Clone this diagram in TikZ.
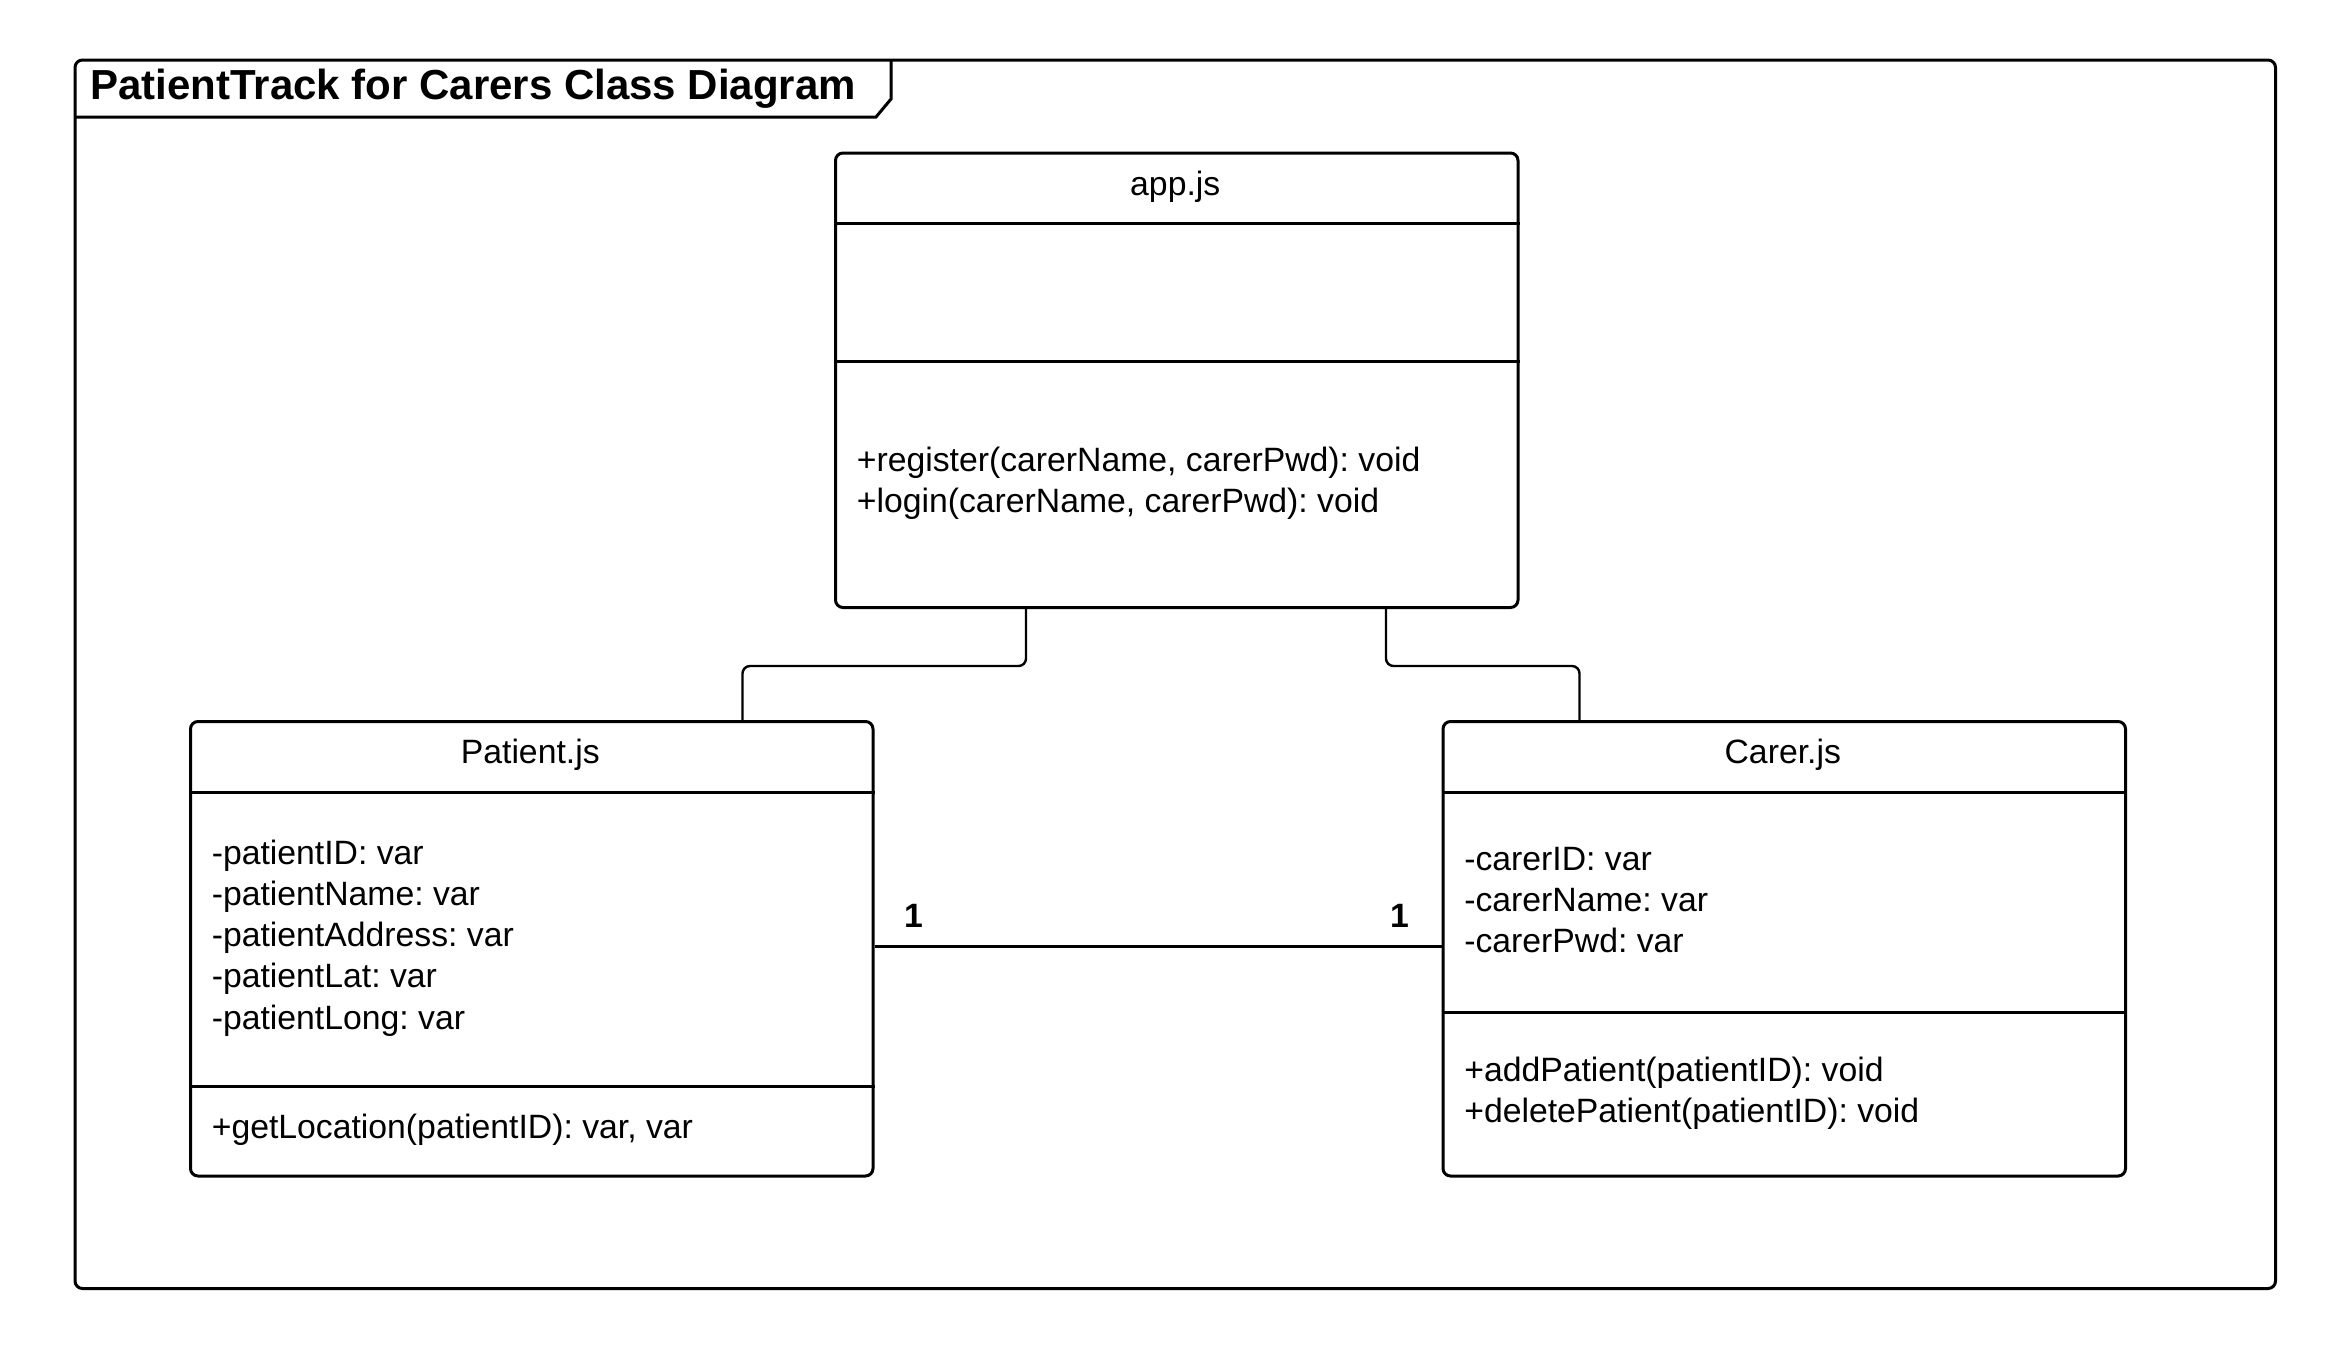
\documentclass[tikz,border=0pt]{standalone}
\usepackage{fontspec}
\setmainfont{Liberation Sans}
\frenchspacing
\usetikzlibrary{positioning}
\tikzset{classbox/.style = {draw, line width=2pt, rounded corners=5pt, inner sep=0pt,
                            anchor=north west, minimum width=455pt, minimum height=303pt},
         member/.style = {anchor=base west, inner sep=0pt, font=\fontsize{22.5}{27}\selectfont},
         cname/.style = {anchor=base, inner sep=0pt, font=\fontsize{22.5}{27}\selectfont},
         mult/.style = {anchor=base, inner sep=0pt, font=\bfseries\fontsize{22.5}{27}\selectfont},
         sep/.style = {line width=2pt},
         link/.style = {line width=1.6pt, rounded corners=5pt}}

\begin{document}
\begin{tikzpicture}[x=1pt, y=-1pt]
    \useasboundingbox (0,0) rectangle (1550,900);
    % frame with its tab
    \draw [line width=2pt, rounded corners=5pt] (50,40) rectangle (1517,859);
    \draw [line width=2pt] (50,78) -- (584,78) -- (594,66) -- (594,40);
    \node [anchor=base west, inner sep=0pt, font=\bfseries\fontsize{28}{32}\selectfont] (title) at (60,66) {PatientTrack for Carers Class Diagram};

    % app.js
    \node [classbox] (app) at (556,101) {};
    \draw [sep] (app.west |- 0,149) -- (app.east |- 0,149);
    \draw [sep] (app.west |- 0,241) -- (app.east |- 0,241);
    \node [cname] (app-name) at (783.5,130) {app.js};
    \foreach \t [count=\i from 0] in {{+register(carerName, carerPwd): void}, {+login(carerName, carerPwd): void}}
      \node [member] (app-op\i) at (571,{314+27.5*\i}) {\t};

    % Patient.js
    \node [classbox] (patient) at (126,480) {};
    \draw [sep] (patient.west |- 0,528) -- (patient.east |- 0,528);
    \draw [sep] (patient.west |- 0,724) -- (patient.east |- 0,724);
    \node [cname] (patient-name) at (353.5,509) {Patient.js};
    \foreach \t [count=\i from 0] in {-patientID: var, -patientName: var, -patientAddress: var, -patientLat: var, -patientLong: var}
      \node [member] (patient-att\i) at (141,{576+27.5*\i}) {\t};
    \node [member] (patient-op0) at (141,759) {+getLocation(patientID): var, var};

    % Carer.js
    \node [classbox] (carer) at (961,480) {};
    \draw [sep] (carer.west |- 0,528) -- (carer.east |- 0,528);
    \draw [sep] (carer.west |- 0,675) -- (carer.east |- 0,675);
    \node [cname] (carer-name) at (1188.5,509) {Carer.js};
    \foreach \t [count=\i from 0] in {-carerID: var, -carerName: var, -carerPwd: var}
      \node [member] (carer-att\i) at (976,{580+27.5*\i}) {\t};
    \foreach \t [count=\i from 0] in {+addPatient(patientID): void, +deletePatient(patientID): void}
      \node [member] (carer-op\i) at (976,{721+27.5*\i}) {\t};

    % connectors
    \draw [link] (app.south -| 684,0) -- ++(0,38) -| (patient.north -| 495,0);
    \draw [link] (app.south -| 924,0) -- ++(0,38) -| (carer.north -| 1053,0);
    \draw [sep] (patient.east |- 0,631) -- (carer.west |- 0,631);
    \node [mult] (m-patient) at (609,618) {1};
    \node [mult] (m-carer) at (933,618) {1};
  \end{tikzpicture}
\end{document}
